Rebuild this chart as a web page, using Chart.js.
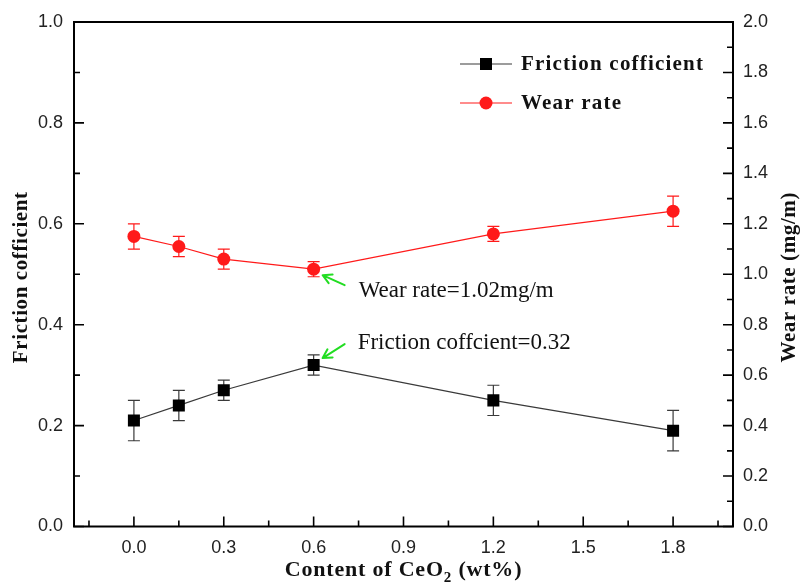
<!DOCTYPE html>
<html>
<head>
<meta charset="utf-8">
<script src="https://cdn.jsdelivr.net/npm/chart.js@4.4.1/dist/chart.umd.min.js"></script>
<style>
  html, body { margin: 0; padding: 0; background: #fff; }
  #wrap { width: 811px; height: 588px; }
</style>
</head>
<body>
<div id="wrap"><canvas id="c" width="811" height="588"></canvas></div>
<script>
// CeO2 content (wt%) and the measured properties
const content = [0, 0.15, 0.3, 0.6, 1.2, 1.8];
const friction = [0.21, 0.24, 0.27, 0.32, 0.25, 0.19];
const frictionErr = [0.04, 0.03, 0.02, 0.02, 0.03, 0.04];
const wearRate = [1.15, 1.11, 1.06, 1.02, 1.16, 1.25];
const wearErr = [0.05, 0.04, 0.04, 0.03, 0.03, 0.06];

// axis ticks
const xTicks = [0, 0.3, 0.6, 0.9, 1.2, 1.5, 1.8];
const xMinor = [-0.15, 0.15, 0.45, 0.75, 1.05, 1.35, 1.65, 1.95];
const frictionTicks = [0, 0.2, 0.4, 0.6, 0.8, 1.0];
const frictionMinor = [0.1, 0.3, 0.5, 0.7, 0.9];
const wearTicks = [0, 0.2, 0.4, 0.6, 0.8, 1.0, 1.2, 1.4, 1.6, 1.8, 2.0];
const wearMinor = [0.1, 0.3, 0.5, 0.7, 0.9, 1.1, 1.3, 1.5, 1.7, 1.9];

// annotation texts
const wearNote = 'Wear rate=1.02mg/m';
const frictionNote = 'Friction coffcient=0.32';

const SERIF = '"Liberation Serif", "Times New Roman", serif';
const SANS = '"Liberation Sans", Arial, sans-serif';
const BLACK_LINE = '#3a3a3a';
const RED = '#ff1a1a';
const GREEN = '#22dd22';

const pts = (ys) => content.map((x, i) => ({ x, y: ys[i] }));

function drawArrow(ctx, x0, y0, x1, y1) {
  const a = Math.atan2(y1 - y0, x1 - x0);
  const h = 10;
  ctx.save();
  ctx.strokeStyle = GREEN;
  ctx.lineWidth = 2;
  ctx.lineCap = 'round';
  ctx.beginPath();
  ctx.moveTo(x0, y0); ctx.lineTo(x1, y1);
  ctx.moveTo(x1, y1); ctx.lineTo(x1 - h * Math.cos(a - 0.5), y1 - h * Math.sin(a - 0.5));
  ctx.moveTo(x1, y1); ctx.lineTo(x1 - h * Math.cos(a + 0.5), y1 - h * Math.sin(a + 0.5));
  ctx.stroke();
  ctx.restore();
}

function spacedText(ctx, text, x, y, spacing) {
  ctx.save();
  ctx.letterSpacing = spacing + 'px';
  ctx.fillText(text, x, y);
  ctx.restore();
}

const decorations = {
  id: 'decorations',
  beforeDatasetsDraw(chart) {
    const { ctx, scales } = chart;
    const xs = scales.x;
    const bars = [
      { ys: friction, es: frictionErr, scale: scales.y, color: BLACK_LINE },
      { ys: wearRate, es: wearErr, scale: scales.y1, color: RED }
    ];
    ctx.save();
    ctx.lineWidth = 1.2;
    bars.forEach(b => {
      ctx.strokeStyle = b.color;
      content.forEach((c, i) => {
        const px = xs.getPixelForValue(c);
        const top = b.scale.getPixelForValue(b.ys[i] + b.es[i]);
        const bot = b.scale.getPixelForValue(b.ys[i] - b.es[i]);
        ctx.beginPath();
        ctx.moveTo(px, top); ctx.lineTo(px, bot);
        ctx.moveTo(px - 6, top); ctx.lineTo(px + 6, top);
        ctx.moveTo(px - 6, bot); ctx.lineTo(px + 6, bot);
        ctx.stroke();
      });
    });
    ctx.restore();
  },
  afterDraw(chart) {
    const { ctx, chartArea: a, scales } = chart;
    const xs = scales.x, yl = scales.y, yr = scales.y1;
    ctx.save();
    // frame
    ctx.strokeStyle = '#000';
    ctx.lineWidth = 2;
    ctx.strokeRect(a.left, a.top, a.right - a.left, a.bottom - a.top);
    // inward tick marks
    ctx.lineWidth = 1.6;
    ctx.beginPath();
    const tickX = (vals, len) => vals.forEach(v => {
      const p = xs.getPixelForValue(v);
      ctx.moveTo(p, a.bottom); ctx.lineTo(p, a.bottom - len);
    });
    const tickL = (vals, len) => vals.forEach(v => {
      const p = yl.getPixelForValue(v);
      ctx.moveTo(a.left, p); ctx.lineTo(a.left + len, p);
    });
    const tickR = (vals, len) => vals.forEach(v => {
      const p = yr.getPixelForValue(v);
      ctx.moveTo(a.right, p); ctx.lineTo(a.right - len, p);
    });
    tickX(xTicks, 10); tickX(xMinor, 6);
    tickL(frictionTicks, 10); tickL(frictionMinor, 6);
    tickR(wearTicks, 10); tickR(wearMinor, 6);
    ctx.stroke();

    // axis titles
    ctx.fillStyle = '#111';
    ctx.font = 'bold 21px ' + SERIF;
    ctx.textAlign = 'center';
    ctx.textBaseline = 'middle';
    const midY = (a.top + a.bottom) / 2;
    ctx.save();
    ctx.translate(22, midY + 3);
    ctx.rotate(-Math.PI / 2);
    spacedText(ctx, 'Friction cofficient', 0, 0, 0.6);
    ctx.restore();
    ctx.save();
    ctx.translate(790, midY + 3);
    ctx.rotate(-Math.PI / 2);
    spacedText(ctx, 'Wear rate (mg/m)', 0, 0, 0.6);
    ctx.restore();

    // x title with subscript
    const partA = 'Content of CeO', sub = '2', partB = ' (wt%)';
    ctx.textAlign = 'left';
    ctx.textBaseline = 'alphabetic';
    ctx.letterSpacing = '0.8px';
    ctx.font = 'bold 22px ' + SERIF;
    const wA = ctx.measureText(partA).width;
    const wB = ctx.measureText(partB).width;
    ctx.font = 'bold 15px ' + SERIF;
    const wS = ctx.measureText(sub).width;
    const total = wA + wS + wB;
    let tx = (a.left + a.right) / 2 - total / 2;
    const base = 576;
    ctx.font = 'bold 22px ' + SERIF;
    ctx.fillText(partA, tx, base);
    tx += wA;
    ctx.font = 'bold 15px ' + SERIF;
    ctx.fillText(sub, tx, base + 6);
    tx += wS;
    ctx.font = 'bold 22px ' + SERIF;
    ctx.fillText(partB, tx, base);
    ctx.letterSpacing = '0px';

    // legend
    const legend = [
      { label: 'Friction cofficient', color: BLACK_LINE, fill: '#000', style: 'rect', y: 64 },
      { label: 'Wear rate', color: RED, fill: RED, style: 'circle', y: 103 }
    ];
    legend.forEach(l => {
      ctx.strokeStyle = l.color;
      ctx.lineWidth = 1.2;
      ctx.beginPath();
      ctx.moveTo(460, l.y); ctx.lineTo(512, l.y);
      ctx.stroke();
      ctx.fillStyle = l.fill;
      if (l.style === 'rect') {
        ctx.fillRect(480, l.y - 6, 12, 12);
      } else {
        ctx.beginPath();
        ctx.arc(486, l.y, 6.5, 0, Math.PI * 2);
        ctx.fill();
      }
      ctx.fillStyle = '#111';
      ctx.font = 'bold 21px ' + SERIF;
      ctx.textBaseline = 'middle';
      spacedText(ctx, l.label, 521, l.y + 1, 1.2);
    });

    // annotations for the 0.6 wt% sample
    const iBest = content.indexOf(0.6);
    const px = xs.getPixelForValue(content[iBest]);
    const pw = yr.getPixelForValue(wearRate[iBest]);
    const pf = yl.getPixelForValue(friction[iBest]);
    drawArrow(ctx, px + 31, pw + 16, px + 9, pw + 6);
    drawArrow(ctx, px + 31, pf - 21, px + 9, pf - 7);
    ctx.fillStyle = '#111';
    ctx.font = '23px ' + SERIF;
    ctx.textBaseline = 'middle';
    ctx.fillText(wearNote, px + 45, pw + 22);
    ctx.fillText(frictionNote, px + 44, pf - 22);
    ctx.restore();
  }
};

const tickFont = { family: SANS, size: 18 };

new Chart(document.getElementById('c'), {
  type: 'line',
  data: {
    datasets: [
      {
        label: 'Friction cofficient',
        data: pts(friction),
        yAxisID: 'y',
        borderColor: BLACK_LINE,
        borderWidth: 1.2,
        pointStyle: 'rect',
        pointRadius: 8.5,
        pointBackgroundColor: '#000',
        pointBorderWidth: 0,
        tension: 0
      },
      {
        label: 'Wear rate',
        data: pts(wearRate),
        yAxisID: 'y1',
        borderColor: RED,
        borderWidth: 1.2,
        pointStyle: 'circle',
        pointRadius: 6.5,
        pointBackgroundColor: RED,
        pointBorderWidth: 0,
        tension: 0
      }
    ]
  },
  options: {
    responsive: false,
    devicePixelRatio: 1,
    animation: false,
    layout: { padding: { top: 22, left: 0, right: 0, bottom: 0 } },
    plugins: { legend: { display: false }, tooltip: { enabled: false } },
    scales: {
      x: {
        type: 'linear',
        min: -0.2, max: 2.0,
        grid: { display: false, drawTicks: false },
        border: { display: false },
        afterBuildTicks: s => { s.ticks = xTicks.map(v => ({ value: v })); },
        afterFit: s => { s.height = 61.5; },
        ticks: {
          padding: 11,
          color: '#222',
          font: tickFont,
          callback: v => Number(v).toFixed(1)
        }
      },
      y: {
        position: 'left',
        min: 0, max: 1,
        grid: { display: false, drawTicks: false },
        border: { display: false },
        afterBuildTicks: s => { s.ticks = frictionTicks.map(v => ({ value: v })); },
        afterFit: s => { s.width = 74; },
        ticks: {
          padding: 11,
          color: '#222',
          font: tickFont,
          callback: v => Number(v).toFixed(1)
        }
      },
      y1: {
        position: 'right',
        min: 0, max: 2,
        grid: { display: false, drawTicks: false },
        border: { display: false },
        afterBuildTicks: s => { s.ticks = wearTicks.map(v => ({ value: v })); },
        afterFit: s => { s.width = 78; },
        ticks: {
          padding: 10,
          color: '#222',
          font: tickFont,
          callback: v => Number(v).toFixed(1)
        }
      }
    }
  },
  plugins: [decorations]
});
</script>
</body>
</html>
